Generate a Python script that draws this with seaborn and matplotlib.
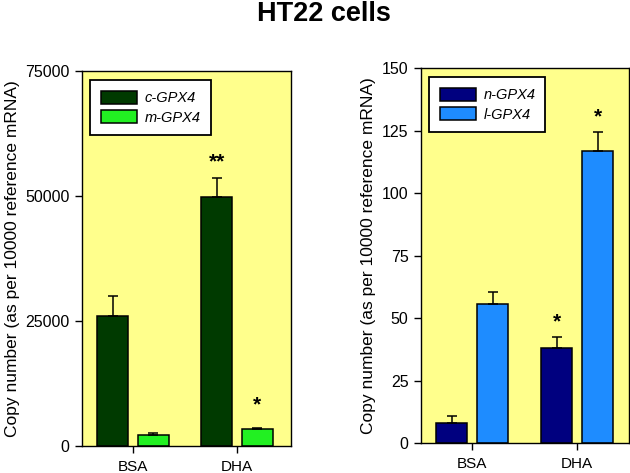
import pandas as pd
import matplotlib
matplotlib.use("Agg")
import matplotlib.pyplot as plt
import seaborn as sns

sns.set_style("ticks")
plt.rcParams['font.family'] = ['Liberation Sans', 'DejaVu Sans']
plt.rcParams.update({"text.color": "black", "axes.labelcolor": "black",
                     "xtick.color": "black", "ytick.color": "black",
                     "axes.edgecolor": "black"})

# data
treatments = ["BSA", "DHA"]

left_isoforms = ["c-GPX4", "m-GPX4"]
c_gpx4 = [26000, 49800]
c_gpx4_err = [4000, 3800]
m_gpx4 = [2300, 3400]
m_gpx4_err = [250, 300]
left_stars = {("c-GPX4", "DHA"): "**", ("m-GPX4", "DHA"): "*"}
left_star_y = {("c-GPX4", "DHA"): 56800, ("m-GPX4", "DHA"): 8200}

right_isoforms = ["n-GPX4", "l-GPX4"]
n_gpx4 = [8, 38]
n_gpx4_err = [3, 4.5]
l_gpx4 = [55.5, 117]
l_gpx4_err = [5, 7.5]
right_stars = {("n-GPX4", "DHA"): "*", ("l-GPX4", "DHA"): "*"}
right_star_y = {("n-GPX4", "DHA"): 48.4, ("l-GPX4", "DHA"): 130.4}

left_colors = ["#003a00", "#22f022"]
right_colors = ["#00007f", "#1e8cff"]
bg = "#ffff8c"
ylab = "Copy number (as per 10000 reference mRNA)"


def make_df(isoforms, vals, errs):
    rows = []
    for iso, v, e in zip(isoforms, vals, errs):
        for t, vv, ee in zip(treatments, v, e):
            rows.append({"treatment": t, "isoform": iso, "value": vv, "err": ee})
    return pd.DataFrame(rows)


def draw(ax, df, isoforms, colors, ymax, yticks, stars, star_y, xlim):
    sns.barplot(data=df, x="treatment", y="value", hue="isoform",
                hue_order=isoforms, order=treatments, palette=colors,
                saturation=1, width=0.78, gap=0.23, errorbar=None,
                edgecolor="black", linewidth=1.1, ax=ax)
    ax.set_facecolor(bg)
    # bars come out hue by hue, in treatment order
    for i, iso in enumerate(isoforms):
        bars = ax.containers[i]
        for j, t in enumerate(treatments):
            p = bars[j]
            cx = p.get_x() + p.get_width() / 2
            row = df[(df.isoform == iso) & (df.treatment == t)].iloc[0]
            ax.errorbar(cx, row.value, yerr=[[0], [row.err]], color="black",
                        capsize=3.5, elinewidth=1.1, capthick=1.1, zorder=1)
            if (iso, t) in stars:
                ax.text(cx, star_y[(iso, t)], stars[(iso, t)], ha="center",
                        va="center", fontsize=15, fontweight="bold")
    ax.set_xlim(*xlim)
    ax.set_ylim(0, ymax)
    ax.set_yticks(yticks)
    ax.set_xlabel("")
    ax.set_ylabel(ylab, fontsize=12.5, labelpad=4)
    ax.tick_params(axis="both", labelsize=11.5, direction="out", length=5,
                   width=1, pad=4)
    ax.tick_params(axis="x", labelsize=11, pad=5)
    for s in ax.spines.values():
        s.set_linewidth(1)
    leg = ax.legend(loc="upper left", bbox_to_anchor=(0.04, 0.975),
                    fontsize=10.5, frameon=True, fancybox=False,
                    edgecolor="black", framealpha=1, facecolor="white",
                    handlelength=2.5, handleheight=1.0, handletextpad=0.5,
                    borderpad=0.7, labelspacing=0.35, borderaxespad=0)
    leg.get_frame().set_linewidth(1.3)
    for txt in leg.get_texts():
        txt.set_fontstyle("italic")


fig = plt.figure(figsize=(6.3, 4.73), dpi=100)
ax1 = fig.add_axes([82 / 630, 27 / 473, 209 / 630, 375 / 473])
ax2 = fig.add_axes([421 / 630, 30 / 473, 208 / 630, 375 / 473])

draw(ax1, make_df(left_isoforms, [c_gpx4, m_gpx4], [c_gpx4_err, m_gpx4_err]),
     left_isoforms, left_colors, 75000, [0, 25000, 50000, 75000],
     left_stars, left_star_y, (-0.49, 1.52))
draw(ax2, make_df(right_isoforms, [n_gpx4, l_gpx4], [n_gpx4_err, l_gpx4_err]),
     right_isoforms, right_colors, 150, [0, 25, 50, 75, 100, 125, 150],
     right_stars, right_star_y, (-0.486, 1.495))

fig.text(0.514, 1 - 1 / 473, "HT22 cells", ha="center", va="top",
         fontsize=19.5, fontweight="bold")

fig.savefig("out.png", dpi=100)
